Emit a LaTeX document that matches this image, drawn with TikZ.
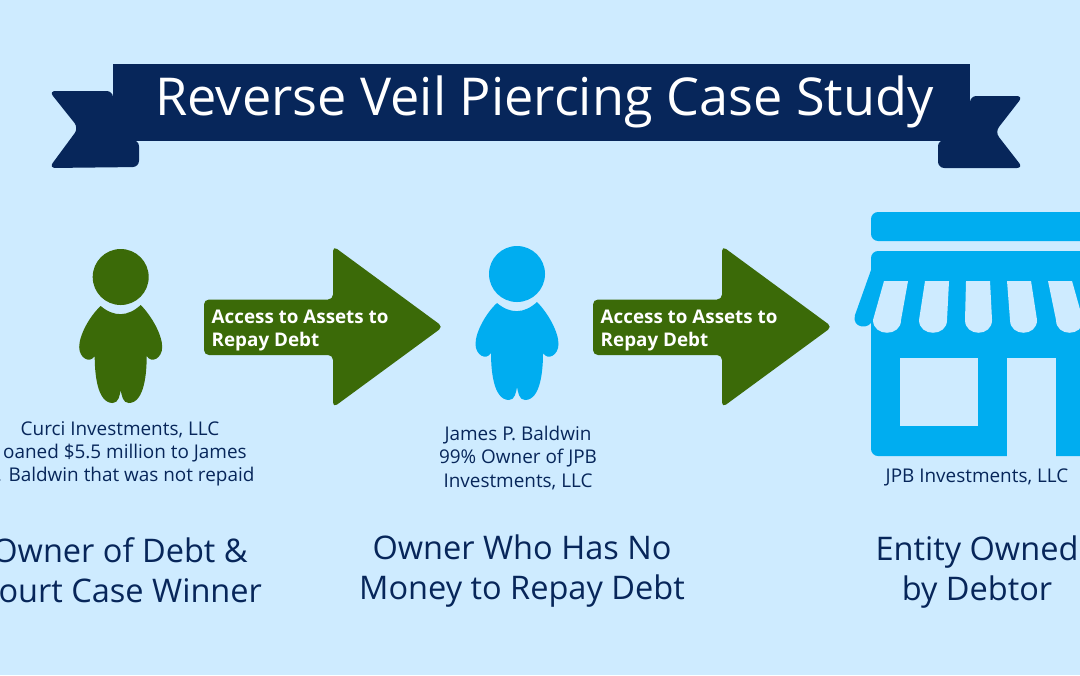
\documentclass[tikz,border=0pt]{standalone}
\usepackage{fontspec}
\setmainfont{Open Sans}
\definecolor{skybg}{HTML}{CEEBFF}
\definecolor{navy}{HTML}{07265A}
\definecolor{leaf}{HTML}{3B6A08}
\definecolor{azure}{HTML}{00ADF0}
\tikzset{
  small text/.style={text=navy,align=center,inner sep=0pt,font=\fontsize{5.38}{6.55}\selectfont},
  big text/.style={text=navy,align=center,inner sep=0pt,font=\fontsize{9.25}{11.2}\selectfont},
  arrow text/.style={text=white,align=left,inner sep=0pt,anchor=west,font=\bfseries\fontsize{5.35}{6.55}\selectfont},
  title text/.style={text=white,inner sep=0pt,font=\fontsize{14.85}{18}\selectfont},
}
\newcommand{\person}[3]{
\begin{scope}[shift={(#1,#2)}]
\fill[#3] (0,277) circle (28);
\fill[#3] (-20,306) .. controls (-7,317) and (7,317) .. (20,305)
  .. controls (31,316) and (41.5,335) .. (41.5,347)
  .. controls (41.5,358) and (31,364) .. (26,356)
  .. controls (26,372) and (24,403) .. (8,403)
  .. controls (2,403) and (1,395) .. (0,390)
  .. controls (-1,395) and (-2,403) .. (-8,403)
  .. controls (-24,403) and (-26,372) .. (-26,356)
  .. controls (-31,364) and (-41.5,358) .. (-41.5,347)
  .. controls (-41.5,335) and (-31,316) .. (-20,306) -- cycle;
\end{scope}
}
\newcommand{\bigarrow}[1]{
\fill[leaf,rounded corners=1.4pt,shift={(#1,0)}] (204,299.5) -- (333,299.5) -- (333,246) -- (443,326.8) -- (333,407.5) -- (333,355) -- (204,355) -- cycle;
}
\newcommand{\stripe}[4]{
\fill[skybg] (#1,281) -- (#2,281) -- (#3,320) .. controls (#3,337) and (#4,337) .. (#4,320) -- cycle;
}
\begin{document}
\begin{tikzpicture}[x=0.01cm,y=-0.01cm]
\useasboundingbox (0,0) rectangle (1080,675);
\clip (0,0) rectangle (1080,675);
\fill[skybg] (0,0) rectangle (1080,675);
\fill[navy,rounded corners=1.8pt] (113,91) -- (49,91) -- (78.5,128) -- (49,168) -- (139,167) -- (139,140) -- (113,140) -- cycle;
\fill[navy,rounded corners=1.8pt] (970,96) -- (1023,96) -- (995,132) -- (1023,168) -- (938,168) -- (938,140) -- (970,140) -- cycle;
\fill[navy] (113,64) rectangle (970,140.5);
\node[title text] (title) at (544.5,102) {Reverse Veil Piercing Case Study};
\person{120.7}{0}{leaf}
\person{517}{-3}{azure}
\bigarrow{0}
\bigarrow{389}
\node[arrow text] (access1) at (211,330.5) {Access to Assets to\\Repay Debt};
\node[arrow text] (access2) at (600,330.5) {Access to Assets to\\Repay Debt};
\fill[azure,rounded corners=2pt] (871,212) rectangle (1090,241);
\fill[azure,rounded corners=2pt] (871,251) rectangle (1090,456);
\fill[skybg] (1007,358) rectangle (1056,458);
\fill[azure] (871,270) -- (855,315) .. controls (851,328) and (870,331) .. (873,319) -- (880,300) -- cycle;
\fill[skybg] (900,358) rectangle (978,426);
\stripe{884}{908}{901}{873}
\stripe{925}{949}{947}{919}
\stripe{966}{990}{992}{965}
\stripe{1007}{1031}{1037}{1010}
\stripe{1048}{1072}{1083}{1056}
\node[small text] (curci) at (120,454) {Curci Investments, LLC\\\phantom{L}oaned \$5.5 million to James\\\phantom{P}. Baldwin that was not repaid};
\node[small text] (james) at (518,458) {James P. Baldwin\\99\% Owner of JPB\\Investments, LLC};
\node[small text] (jpb) at (977,477) {JPB Investments, LLC};
\node[big text] (winner) at (120,570) {Owner of Debt \&\\Court Case Winner};
\node[big text] (owner) at (522,571) {Owner Who Has No\\Money to Repay Debt};
\node[big text] (entity) at (977,572) {Entity Owned\\by Debtor};
\end{tikzpicture}
\end{document}
